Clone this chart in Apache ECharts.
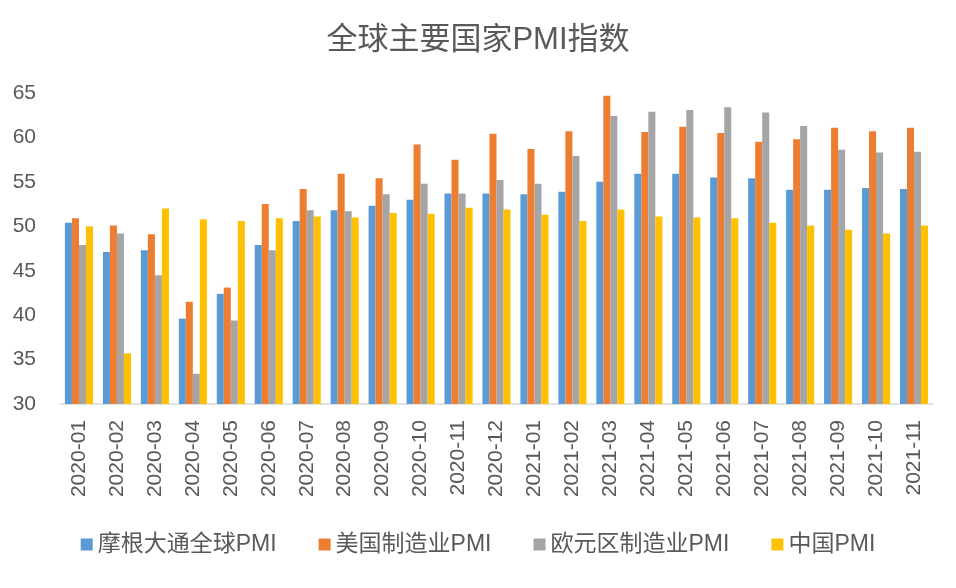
<!doctype html>
<html lang="zh">

<head>
	<meta charset="UTF-8">
	<title>全球主要国家PMI指数</title>
	<script src="https://cdn.jsdelivr.net/npm/echarts@6/dist/echarts.min.js"></script>
	<style>
		html,
		body {
			margin: 0;
			padding: 0;
			width: 100%;
			height: 100%;
			background: #fff;
		}

		#main {
			width: 956px;
			height: 588px;
		}
	</style>
</head>

<body>
	<div id="main"></div>
	<script type="text/javascript">
		var months = ['2020-01', '2020-02', '2020-03', '2020-04', '2020-05', '2020-06', '2020-07', '2020-08',
			'2020-09', '2020-10', '2020-11', '2020-12', '2021-01', '2021-02', '2021-03', '2021-04',
			'2021-05', '2021-06', '2021-07', '2021-08', '2021-09', '2021-10', '2021-11'];
		var jpmGlobal = [50.4, 47.1, 47.3, 39.6, 42.4, 47.9, 50.6, 51.8, 52.3, 53.0, 53.7, 53.7, 53.6, 53.9,
			55.0, 55.9, 55.9, 55.5, 55.4, 54.1, 54.1, 54.3, 54.2];
		var usMfg = [50.9, 50.1, 49.1, 41.5, 43.1, 52.5, 54.2, 55.9, 55.4, 59.2, 57.5, 60.4, 58.7, 60.7,
			64.7, 60.6, 61.2, 60.5, 59.5, 59.8, 61.1, 60.7, 61.1];
		var euroMfg = [47.9, 49.2, 44.5, 33.4, 39.4, 47.3, 51.8, 51.7, 53.6, 54.8, 53.7, 55.2, 54.8, 57.9,
			62.4, 62.9, 63.1, 63.4, 62.8, 61.3, 58.6, 58.3, 58.4];
		var chinaPmi = [50.0, 35.7, 52.0, 50.8, 50.6, 50.9, 51.1, 51.0, 51.5, 51.4, 52.1, 51.9, 51.3, 50.6,
			51.9, 51.1, 51.0, 50.9, 50.4, 50.1, 49.6, 49.2, 50.1];
		var yTicks = { min: 30, max: 65, interval: 5 };

		var font = "'Liberation Sans', 'Noto Sans CJK SC', sans-serif";
		var textColor = '#595959';
		var myChart = echarts.init(document.getElementById('main'));

		function bar(name, data, color) {
			return {
				name: name,
				type: 'bar',
				data: data,
				barGap: '0%',
				barCategoryGap: '26%',
				itemStyle: { color: color }
			};
		}

		option = {
			animation: false,
			title: {
				text: '全球主要国家PMI指数',
				left: 'center',
				top: 20,
				textStyle: { fontSize: 31, fontWeight: 'normal', color: textColor, fontFamily: font }
			},
			legend: {
				left: 'center',
				top: 528,
				itemWidth: 12,
				itemHeight: 12,
				itemGap: 42,
				icon: 'rect',
				textStyle: { fontSize: 23, color: textColor, fontFamily: font }
			},
			grid: { left: 60, right: 23, top: 93, bottom: 184 },
			xAxis: {
				type: 'category',
				data: months,
				axisLine: { lineStyle: { color: '#D9D9D9', width: 1.5 } },
				axisTick: { length: 7, lineStyle: { color: '#D9D9D9', width: 1.5 } },
				axisLabel: { rotate: 90, fontSize: 21, color: textColor, fontFamily: font, margin: 16 }
			},
			yAxis: {
				type: 'value',
				min: yTicks.min,
				max: yTicks.max,
				interval: yTicks.interval,
				axisLine: { show: false },
				axisTick: { show: false },
				splitLine: { show: false },
				axisLabel: { fontSize: 21, color: textColor, fontFamily: font, margin: 24 }
			},
			series: [
				bar('摩根大通全球PMI', jpmGlobal, '#5B9BD5'),
				bar('美国制造业PMI', usMfg, '#ED7D31'),
				bar('欧元区制造业PMI', euroMfg, '#A5A5A5'),
				bar('中国PMI', chinaPmi, '#FFC000')
			]
		};
		myChart.setOption(option);
	</script>
</body>

</html>
